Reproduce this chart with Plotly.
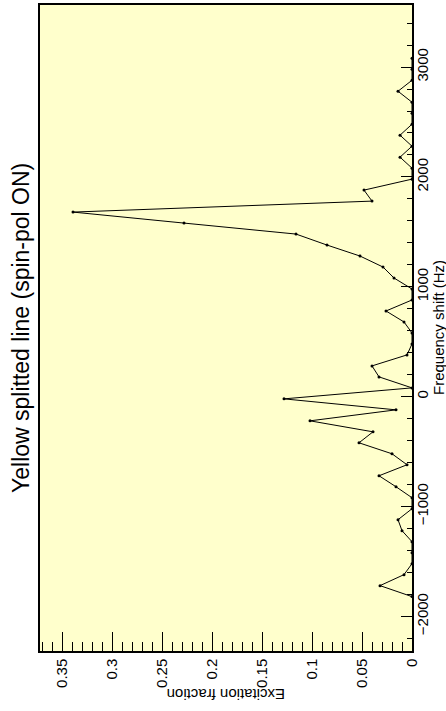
import plotly.graph_objects as go

# Frequency shift (Hz) and excitation fraction
freq_hz = [-1820, -1720, -1620, -1520, -1420, -1320, -1220, -1120, -1020, -920,
           -820, -720, -620, -520, -420, -320, -220, -120, -20, 80,
           180, 280, 380, 480, 580, 680, 780, 880, 980, 1080,
           1180, 1280, 1380, 1480, 1580, 1680, 1780, 1880, 1980, 2080,
           2180, 2280, 2380, 2480, 2580, 2680, 2780, 2880, 2980, 3080]
excitation = [0.0, 0.032, 0.008, 0.0, 0.0, 0.0, 0.010, 0.014, 0.0, 0.0,
              0.016, 0.033, 0.005, 0.020, 0.053, 0.039, 0.102, 0.016, 0.128, 0.0,
              0.033, 0.040, 0.005, 0.0, 0.0, 0.008, 0.026, 0.0, 0.0, 0.018,
              0.029, 0.052, 0.085, 0.116, 0.228, 0.339, 0.040, 0.048, 0.0, 0.0,
              0.012, 0.0, 0.012, 0.0, 0.0, 0.0, 0.014, 0.0, 0.0, 0.0]

exc_ticks = [0, 0.05, 0.1, 0.15, 0.2, 0.25, 0.3, 0.35]
exc_labels = ["0", "0.05", "0.1", "0.15", "0.2", "0.25", "0.3", "0.35"]
freq_ticks = [-2000, -1000, 0, 1000, 2000, 3000]
freq_labels = ["\u22122000", "\u22121000", "0", "1000", "2000", "3000"]

title_text = "Yellow splitted line (spin-pol ON)"
x_title = "Excitation fraction"
y_title = "Frequency shift (Hz)"

FONT = "Liberation Sans, Arial, sans-serif"

fig = go.Figure()
fig.add_trace(go.Scatter(
    x=excitation, y=freq_hz, mode="lines+markers",
    line=dict(color="black", width=1),
    marker=dict(color="black", size=3),
    cliponaxis=False, showlegend=False,
))

fig.update_layout(
    width=446, height=711,
    margin=dict(l=40, r=34, t=3, b=60),
    paper_bgcolor="white",
    plot_bgcolor="#ffffcc",
    font=dict(family=FONT, size=15, color="black"),
    xaxis=dict(
        range=[0.372, 0], tickvals=exc_ticks, ticktext=exc_labels,
        tickangle=-90, ticks="inside", ticklen=19, tickwidth=1, tickcolor="black",
        minor=dict(dtick=0.01, tick0=0, ticks="inside", ticklen=9, tickwidth=1, tickcolor="black"),
        showgrid=False, zeroline=False,
        showline=True, linecolor="black", linewidth=1.5, mirror=True,
        tickfont=dict(size=15),
    ),
    yaxis=dict(
        range=[-2315, 3565], side="right", tickvals=freq_ticks, ticktext=freq_labels,
        tickangle=-90, ticks="inside", ticklen=11, tickwidth=1, tickcolor="black",
        minor=dict(dtick=200, tick0=0, ticks="inside", ticklen=5, tickwidth=1, tickcolor="black"),
        showgrid=False, zeroline=False,
        showline=True, linecolor="black", linewidth=1.5, mirror=True,
        tickfont=dict(size=15), ticklabelstandoff=-4,
    ),
    annotations=[
        dict(text=title_text, xref="paper", yref="paper", x=0, y=0.5, xshift=-19,
             textangle=-90, showarrow=False, font=dict(size=23),
             xanchor="center", yanchor="middle"),
        dict(text=x_title, xref="paper", yref="paper", x=0.5, y=0, yshift=-44,
             textangle=180, showarrow=False, font=dict(size=15),
             xanchor="center", yanchor="middle"),
        dict(text=y_title, xref="paper", yref="paper", x=1, y=0.5, xshift=26,
             textangle=-90, showarrow=False, font=dict(size=15),
             xanchor="center", yanchor="middle", borderpad=0),
    ],
)

fig.write_html(
    "out.html",
    config={"displayModeBar": False},
    post_script="document.body.style.margin='0';document.body.style.overflow='hidden';",
)
